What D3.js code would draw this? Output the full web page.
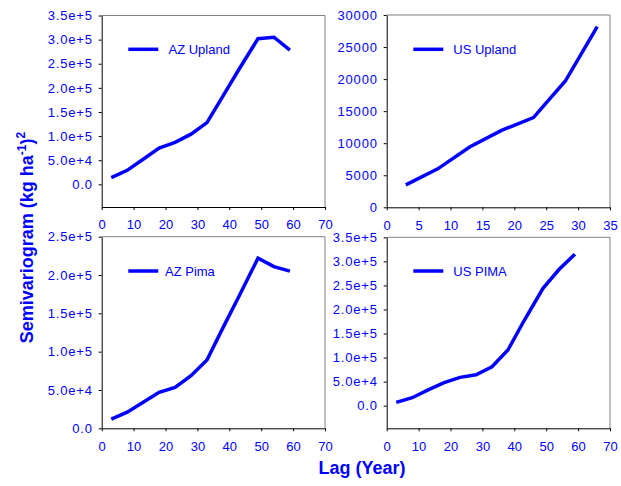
<!DOCTYPE html>
<html>
<head>
<meta charset="utf-8">
<script src="https://cdn.jsdelivr.net/npm/d3@7"></script>
<style>
  html, body { margin: 0; padding: 0; background: #fff; }
  svg { display: block; }
  text { font-family: "Liberation Sans", Arial, Helvetica, sans-serif; }
</style>
</head>
<body>
<svg id="chart" width="621" height="486"></svg>
<script>
// ---- Data ----
const azUplandLag   = [3, 8, 13, 18, 23, 28, 33, 38, 43, 49, 54, 59];
const azUplandGamma = [14000, 29000, 52000, 75000, 87000, 104000, 128000, 183000, 238000, 302000, 305000, 278000];

const usUplandLag   = [3, 8, 13, 18, 23, 28, 33];
const usUplandGamma = [3500, 6000, 9400, 12000, 14000, 19700, 28200];

const azPimaLag   = [3, 8, 13, 18, 23, 28, 33, 38, 43, 49, 54, 59];
const azPimaGamma = [12000, 21000, 34000, 47000, 53500, 68700, 89200, 131000, 172000, 222000, 211000, 205000];

const usPimaLag   = [3, 8, 13, 18, 23, 28, 33, 38, 43, 49, 54, 59];
const usPimaGamma = [7000, 16600, 33000, 47800, 58900, 64400, 81000, 115700, 176000, 244000, 283000, 315000];

const seriesNames = ["AZ Upland", "US Upland", "AZ Pima", "US PIMA"];

// Tick values and labels
const xTicks70 = [0, 10, 20, 30, 40, 50, 60, 70];
const xTicks35 = [0, 5, 10, 15, 20, 25, 30, 35];
const yTicks35e4 = [0, 50000, 100000, 150000, 200000, 250000, 300000, 350000];
const yLabels35e4 = ["0.0", "5.0e+4", "1.0e+5", "1.5e+5", "2.0e+5", "2.5e+5", "3.0e+5", "3.5e+5"];
const yTicks30000 = [0, 5000, 10000, 15000, 20000, 25000, 30000];
const yLabels30000 = ["0", "5000", "10000", "15000", "20000", "25000", "30000"];
const yTicks25e4 = [0, 50000, 100000, 150000, 200000, 250000];
const yLabels25e4 = ["0.0", "5.0e+4", "1.0e+5", "1.5e+5", "2.0e+5", "2.5e+5"];

const yTitle = "Semivariogram (kg ha";
const xTitle = "Lag (Year)";

// ---- Layout ----
const BLUE = "#0000ff";
const svg = d3.select("#chart");

const panels = [
  { lag: azUplandLag, gamma: azUplandGamma, name: seriesNames[0],
    x0: 101.7, x1: 325, y0: 207, y1: 15.5, xDom: [0, 70], yDom: [-47000, 350000],
    xTicks: xTicks70, yTicks: yTicks35e4, yLabels: yLabels35e4,
    legX: 128.3, legY: 49.3, legTextX: 168.5 },
  { lag: usUplandLag, gamma: usUplandGamma, name: seriesNames[1],
    x0: 386.7, x1: 610, y0: 207.3, y1: 15, xDom: [0, 35], yDom: [0, 30000],
    xTicks: xTicks35, yTicks: yTicks30000, yLabels: yLabels30000,
    legX: 413.3, legY: 49.3, legTextX: 453.3 },
  { lag: azPimaLag, gamma: azPimaGamma, name: seriesNames[2],
    x0: 101.7, x1: 325, y0: 428.3, y1: 236.7, xDom: [0, 70], yDom: [0, 250000],
    xTicks: xTicks70, yTicks: yTicks25e4, yLabels: yLabels25e4,
    legX: 128.3, legY: 271, legTextX: 165 },
  { lag: usPimaLag, gamma: usPimaGamma, name: seriesNames[3],
    x0: 386.7, x1: 610, y0: 428.3, y1: 237.3, xDom: [0, 70], yDom: [-47000, 350000],
    xTicks: xTicks70, yTicks: yTicks35e4, yLabels: yLabels35e4,
    legX: 413.3, legY: 271, legTextX: 453.3 }
];

panels.forEach(p => {
  const x = d3.scaleLinear().domain(p.xDom).range([p.x0, p.x1]);
  const y = d3.scaleLinear().domain(p.yDom).range([p.y0, p.y1]);
  const g = svg.append("g");

  // top & right border (gray)
  g.append("path")
    .attr("d", `M${p.x0},${p.y1}H${p.x1}V${p.y0}`)
    .attr("fill", "none").attr("stroke", "#808080").attr("stroke-width", 1);

  // left axis
  const ya = g.append("g").attr("transform", `translate(${p.x0},0)`)
    .call(d3.axisLeft(y).tickValues(p.yTicks)
      .tickFormat((d, i) => p.yLabels[i]).tickSize(3).tickPadding(6).tickSizeOuter(0));
  ya.select(".domain").attr("stroke", "#000");
  ya.selectAll(".tick line").attr("stroke", "#000");
  ya.selectAll(".tick text").attr("fill", BLUE).attr("font-size", 13)
    .style("letter-spacing", "0.8px")
    .attr("font-family", "'Liberation Sans', Arial, sans-serif");

  // bottom axis
  const xa = g.append("g").attr("transform", `translate(0,${p.y0})`)
    .call(d3.axisBottom(x).tickValues(p.xTicks).tickSize(3).tickPadding(10).tickSizeOuter(0));
  xa.select(".domain").attr("stroke", "#000");
  xa.selectAll(".tick line").attr("stroke", "#000");
  xa.selectAll(".tick text").attr("fill", BLUE).attr("font-size", 13)
    .attr("font-family", "'Liberation Sans', Arial, sans-serif");

  // data line
  const pts = p.lag.map((d, i) => [d, p.gamma[i]]);
  g.append("path").datum(pts)
    .attr("d", d3.line().x(d => x(d[0])).y(d => y(d[1])))
    .attr("fill", "none").attr("stroke", BLUE).attr("stroke-width", 3.5)
    .attr("stroke-linejoin", "miter");

  // legend
  g.append("line")
    .attr("x1", p.legX).attr("x2", p.legX + 30)
    .attr("y1", p.legY).attr("y2", p.legY)
    .attr("stroke", BLUE).attr("stroke-width", 3.5);
  g.append("text")
    .attr("x", p.legTextX).attr("y", p.legY + 4.5)
    .attr("fill", BLUE).attr("font-size", 13)
    .text(p.name);
});

// Y title
const yt = svg.append("text")
  .attr("transform", "translate(33,237.5) rotate(-90)")
  .attr("text-anchor", "middle")
  .attr("fill", BLUE).attr("font-size", 18).attr("font-weight", "bold");
yt.append("tspan").text(yTitle);
yt.append("tspan").attr("font-size", 12).attr("dy", -7).text("-1");
yt.append("tspan").attr("dy", 7).text(")");
yt.append("tspan").attr("font-size", 12).attr("dy", -8).text("2");

// X title
svg.append("text")
  .attr("x", 362).attr("y", 474)
  .attr("text-anchor", "middle")
  .attr("fill", BLUE).attr("font-size", 18).attr("font-weight", "bold")
  .text(xTitle);
</script>
</body>
</html>
